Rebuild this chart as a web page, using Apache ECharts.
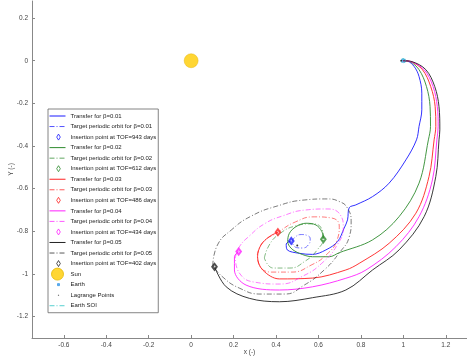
<!DOCTYPE html>
<html>
  <head>
    <meta charset="utf-8" />
    <title>Solar sail transfers</title>
  </head>
  <body style="margin:0">
    <script type="text/javascript" src="https://cdn.jsdelivr.net/npm/echarts@6/dist/echarts.min.js"></script>

    <div id="container" style="width: 467px;height: 362px;"></div>

    <script type="text/javascript">
    // 读取自图片的数据 (x, y 无量纲)
    var xTicks = [-0.6, -0.4, -0.2, 0, 0.2, 0.4, 0.6, 0.8, 1, 1.2];
    var yTicks = [0.2, 0, -0.2, -0.4, -0.6, -0.8, -1, -1.2];

    var betas = ['0.01', '0.02', '0.03', '0.04', '0.05'];
    var tofDays = [943, 612, 486, 434, 402];

    var transfer001 = [[1.0,0.0],[1.02,-0.002],[1.051,-0.027],[1.074,-0.074],[1.087,-0.152],[1.087,-0.230],[1.074,-0.308],[1.062,-0.371],[1.012,-0.465],[0.933,-0.574],[0.855,-0.637],[0.776,-0.676],[0.745,-0.689],[0.737,-0.746],[0.721,-0.785],[0.690,-0.848],[0.635,-0.887],[0.572,-0.908],[0.510,-0.903],[0.453,-0.887],[0.448,-0.859],[0.472,-0.845]];
    var transfer002 = [[1.0,0.0],[1.03,-0.004],[1.074,-0.042],[1.109,-0.121],[1.126,-0.215],[1.128,-0.308],[1.118,-0.371],[1.074,-0.574],[0.980,-0.731],[0.855,-0.840],[0.698,-0.900],[0.651,-0.919],[0.572,-0.919],[0.510,-0.903],[0.471,-0.879],[0.455,-0.848],[0.463,-0.809],[0.494,-0.778],[0.541,-0.762],[0.588,-0.770],[0.616,-0.801],[0.623,-0.837]];
    var transfer003 = [[1.0,0.0],[1.035,-0.004],[1.090,-0.042],[1.129,-0.121],[1.150,-0.215],[1.153,-0.308],[1.145,-0.371],[1.121,-0.543],[1.059,-0.715],[0.933,-0.856],[0.792,-0.950],[0.729,-0.981],[0.572,-1.019],[0.416,-1.023],[0.337,-0.981],[0.313,-0.919],[0.329,-0.864],[0.368,-0.825],[0.409,-0.804]];
    var transfer004 = [[1.0,0.0],[1.035,-0.004],[1.098,-0.042],[1.140,-0.121],[1.160,-0.215],[1.164,-0.308],[1.158,-0.371],[1.137,-0.559],[1.074,-0.731],[0.965,-0.872],[0.824,-0.981],[0.729,-1.020],[0.572,-1.060],[0.416,-1.075],[0.259,-1.052],[0.204,-0.981],[0.204,-0.919],[0.224,-0.895]];
    var transfer005 = [[1.0,0.0],[1.04,-0.004],[1.106,-0.042],[1.148,-0.121],[1.168,-0.215],[1.172,-0.324],[1.168,-0.371],[1.153,-0.543],[1.098,-0.731],[0.980,-0.887],[0.855,-0.981],[0.729,-1.075],[0.572,-1.111],[0.416,-1.130],[0.274,-1.114],[0.165,-1.060],[0.110,-0.966]];

    var orbit001 = [[0.474,-0.848],[0.491,-0.826],[0.519,-0.815],[0.547,-0.819],[0.561,-0.836],[0.552,-0.864],[0.524,-0.878],[0.496,-0.876],[0.474,-0.848]];
    var orbit002 = [[0.345,-0.925],[0.368,-0.864],[0.416,-0.812],[0.491,-0.775],[0.571,-0.765],[0.613,-0.784],[0.623,-0.831],[0.594,-0.887],[0.538,-0.939],[0.463,-0.972],[0.387,-0.972],[0.345,-0.925]];
    var orbit003 = [[0.312,-0.911],[0.336,-0.854],[0.411,-0.803],[0.491,-0.756],[0.580,-0.732],[0.660,-0.737],[0.698,-0.775],[0.688,-0.840],[0.641,-0.906],[0.566,-0.958],[0.472,-0.991],[0.378,-0.991],[0.321,-0.958],[0.312,-0.911]];
    var orbit004 = [[0.208,-0.925],[0.227,-0.873],[0.274,-0.822],[0.345,-0.765],[0.430,-0.728],[0.538,-0.700],[0.641,-0.695],[0.703,-0.723],[0.717,-0.784],[0.688,-0.864],[0.622,-0.944],[0.528,-1.009],[0.416,-1.047],[0.298,-1.038],[0.227,-0.995],[0.208,-0.925]];
    var orbit005 = [[0.102,-0.960],[0.124,-0.864],[0.190,-0.793],[0.284,-0.728],[0.406,-0.681],[0.533,-0.653],[0.640,-0.648],[0.698,-0.660],[0.736,-0.690],[0.754,-0.756],[0.745,-0.826],[0.698,-0.901],[0.627,-0.981],[0.533,-1.052],[0.439,-1.094],[0.331,-1.094],[0.227,-1.066],[0.143,-1.009],[0.102,-0.960]];

    var insertionPoints = [[0.472,-0.845],[0.623,-0.837],[0.409,-0.804],[0.224,-0.895],[0.110,-0.966]];

    var sun = [[0, 0]];
    var earth = [[1, 0]];
    var lagrangePoints = [[0.99, 0], [1.01, 0], [-1, 0], [0.5, 0.866], [0.5, -0.866]];
    var earthSoi = [[1.01,0],[1.0,0.01],[0.99,0],[1.0,-0.01],[1.01,0]];

    var transfers = [transfer001, transfer002, transfer003, transfer004, transfer005];
    var orbits = [orbit001, orbit002, orbit003, orbit004, orbit005];
    var colors = ['#1a1aff', '#2e8b2e', '#ff2020', '#ff20ff', '#222222'];
    var dashDot = [5, 2, 1, 2];

    // 图例图标, 都放在 16x13 的框里 (M 点撑开边界)
    var iconLine = 'path://M0,0M16,13M0,6.5L16,6.5';
    var iconDiamond = 'path://M0,0M16,13M9,3.5L10.8,6.5L9,9.5L7.2,6.5Z';
    var iconSun = 'path://M0,0M16,13M2,6.5A6,6,0,1,1,14,6.5A6,6,0,1,1,2,6.5Z';
    var iconEarth = 'path://M0,0M16,13M8,5.5h2v2h-2Z';
    var iconDot = 'path://M0,0M16,13M8.8,6.3h0.4v0.4h-0.4Z';

    function lineIcon(name, c, dash) {
        return {name: name, icon: iconLine,
            itemStyle: {color: c, borderColor: c, borderWidth: 1, borderType: dash ? dashDot : 'solid', opacity: dash ? 0.75 : 1}};
    }

    var series = [];
    var legendData = [];
    for (var i = 0; i < betas.length; i++) {
        var n1 = 'Transfer for β=' + betas[i];
        var n2 = 'Target periodic orbit for β=' + betas[i];
        var n3 = 'Insertion point at TOF=' + tofDays[i] + ' days';
        legendData.push(lineIcon(n1, colors[i], false));
        legendData.push(lineIcon(n2, colors[i], true));
        legendData.push({name: n3, icon: iconDiamond,
            itemStyle: {color: '#fff', borderColor: colors[i], borderWidth: 1, borderType: 'solid'}});
        series.push({
            name: n1, type: 'line', data: transfers[i], smooth: 0.35,
            symbol: 'none', lineStyle: {color: colors[i], width: 0.9},
            itemStyle: {color: colors[i]}
        });
        series.push({
            name: n2, type: 'line', data: orbits[i], smooth: 0.5,
            symbol: 'none', lineStyle: {color: colors[i], width: 0.8, type: dashDot, opacity: 0.75},
            itemStyle: {color: colors[i]}
        });
        series.push({
            name: n3, type: 'scatter', data: [insertionPoints[i]],
            symbol: 'emptyDiamond', symbolSize: [4.5, 6],
            itemStyle: {color: colors[i], borderWidth: 0.9}
        });
    }
    legendData.push({name: 'Sun', icon: iconSun, itemStyle: {color: '#ffcc00', borderColor: '#e6b800', borderWidth: 1, borderType: 'solid'}});
    legendData.push({name: 'Earth', icon: iconEarth, itemStyle: {color: '#3d9be9', borderColor: '#3d9be9', borderWidth: 1, borderType: 'solid'}});
    legendData.push({name: 'Lagrange Points', icon: iconDot, itemStyle: {color: '#333', borderColor: '#555', borderWidth: 1, borderType: 'solid'}});
    legendData.push(lineIcon('Earth SOI', '#20c0c0', true));

    series.push({name: 'Sun', type: 'scatter', data: sun, symbol: 'circle', symbolSize: 14,
        itemStyle: {color: '#ffcc00', borderColor: '#e0b000', borderWidth: 0.5}});
    series.push({name: 'Earth', type: 'scatter', data: earth, symbol: 'rect', symbolSize: 4,
        itemStyle: {color: '#3d9be9'}});
    series.push({name: 'Lagrange Points', type: 'scatter', data: lagrangePoints, symbol: 'circle', symbolSize: 2,
        itemStyle: {color: '#000'}});
    series.push({name: 'Earth SOI', type: 'line', data: earthSoi, smooth: 0.5, symbol: 'none',
        lineStyle: {color: '#20c0c0', width: 0.8, type: dashDot}, itemStyle: {color: '#20c0c0'}});

    var myChart = echarts.init(document.getElementById('container'));
    var option = {
        animation: false,
        backgroundColor: '#fff',
        textStyle: {fontFamily: 'Liberation Sans'},
        grid: {left: 32, right: 0, top: 1, bottom: 24, containLabel: false, outerBoundsMode: 'none'},
        xAxis: {
            type: 'value', min: -0.75, max: 1.3,
            name: 'x (-)', nameLocation: 'middle', nameGap: 11, nameMoveOverlap: false,
            nameTextStyle: {fontSize: 6.5, color: '#444'},
            splitLine: {show: false},
            axisLine: {onZero: false, lineStyle: {color: '#888', width: 1}},
            axisTick: {inside: true, length: 3, customValues: xTicks, lineStyle: {color: '#888'}},
            axisLabel: {customValues: xTicks, fontSize: 6.5, color: '#444', margin: 4,
                formatter: function (v) { return String(v); }}
        },
        yAxis: {
            type: 'value', min: -1.3, max: 0.28,
            name: 'Y (-)', nameLocation: 'middle', nameGap: 17, nameMoveOverlap: false,
            nameTextStyle: {fontSize: 6.5, color: '#444'},
            splitLine: {show: false},
            axisLine: {onZero: false, lineStyle: {color: '#888', width: 1}},
            axisTick: {inside: true, length: 3, customValues: yTicks, lineStyle: {color: '#888'}},
            axisLabel: {customValues: yTicks, fontSize: 6.5, color: '#444', margin: 4,
                formatter: function (v) { return String(v); }}
        },
        legend: {
            orient: 'vertical', left: 48, top: 109,
            itemWidth: 16, itemHeight: 13, itemGap: -3.46,
            padding: [0, 2, 0, 1],
            borderColor: '#666', borderWidth: 0.8, backgroundColor: '#fff',
            textStyle: {fontSize: 6.0, color: '#222'},
            data: legendData
        },
        series: series
    };
    myChart.setOption(option);
    window.addEventListener('resize', myChart.resize);
    </script>
  </body>
</html>
